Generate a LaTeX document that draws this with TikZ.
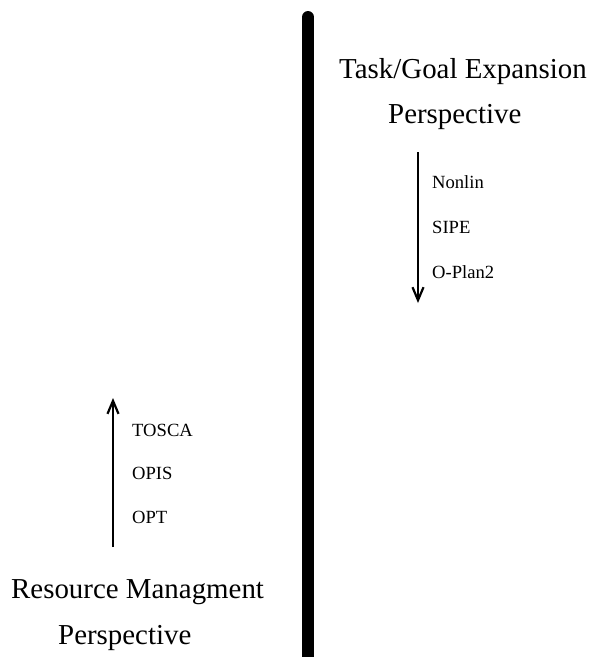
\documentclass[tikz,border=0pt]{standalone}
\usepackage{fontspec}
\setmainfont{Liberation Serif}
\usetikzlibrary{arrows.meta}
\tikzset{
  bigtxt/.style={anchor=base west, inner sep=0pt, font=\fontsize{28.9}{31}\selectfont},
  smalltxt/.style={anchor=base west, inner sep=0pt, font=\fontsize{18.6}{20}\selectfont},
  divider/.style={line width=12pt, line cap=round},
  trend/.style={line width=2.4pt, -{Straight Barb[length=13pt,width=11pt,line width=2.2pt]}}
}
\begin{document}
\begin{tikzpicture}[x=1pt,y=-1pt]
\useasboundingbox (0,0) rectangle (590,657);
% divider
\coordinate (dtop) at (308,17);
\coordinate (dbot) at (308,663);
\begin{scope}
\clip (0,0) rectangle (590,657);
\draw[divider] (dtop) -- (dbot);
\end{scope}
% right side
\node[bigtxt] (tg) at (339,78) {Task/Goal Expansion};
\node[bigtxt] (tgp) at (388,123) {Perspective};
\coordinate (ra) at (418,152);
\coordinate (rb) at (418,303);
\draw[trend] (ra) -- (rb);
\node[smalltxt] (nonlin) at (432,188) {Nonlin};
\node[smalltxt] (sipe) at (432,233) {SIPE};
\node[smalltxt] (oplan) at (432,278) {O-Plan2};
% left side
\node[bigtxt] (rm) at (11,598) {Resource Managment};
\node[bigtxt] (rmp) at (58,644) {Perspective};
\coordinate (la) at (113,547);
\coordinate (lb) at (113,398);
\draw[trend] (la) -- (lb);
\node[smalltxt] (tosca) at (132,436) {TOSCA};
\node[smalltxt] (opis) at (132,479) {OPIS};
\node[smalltxt] (opt) at (132,523) {OPT};
\end{tikzpicture}
\end{document}
